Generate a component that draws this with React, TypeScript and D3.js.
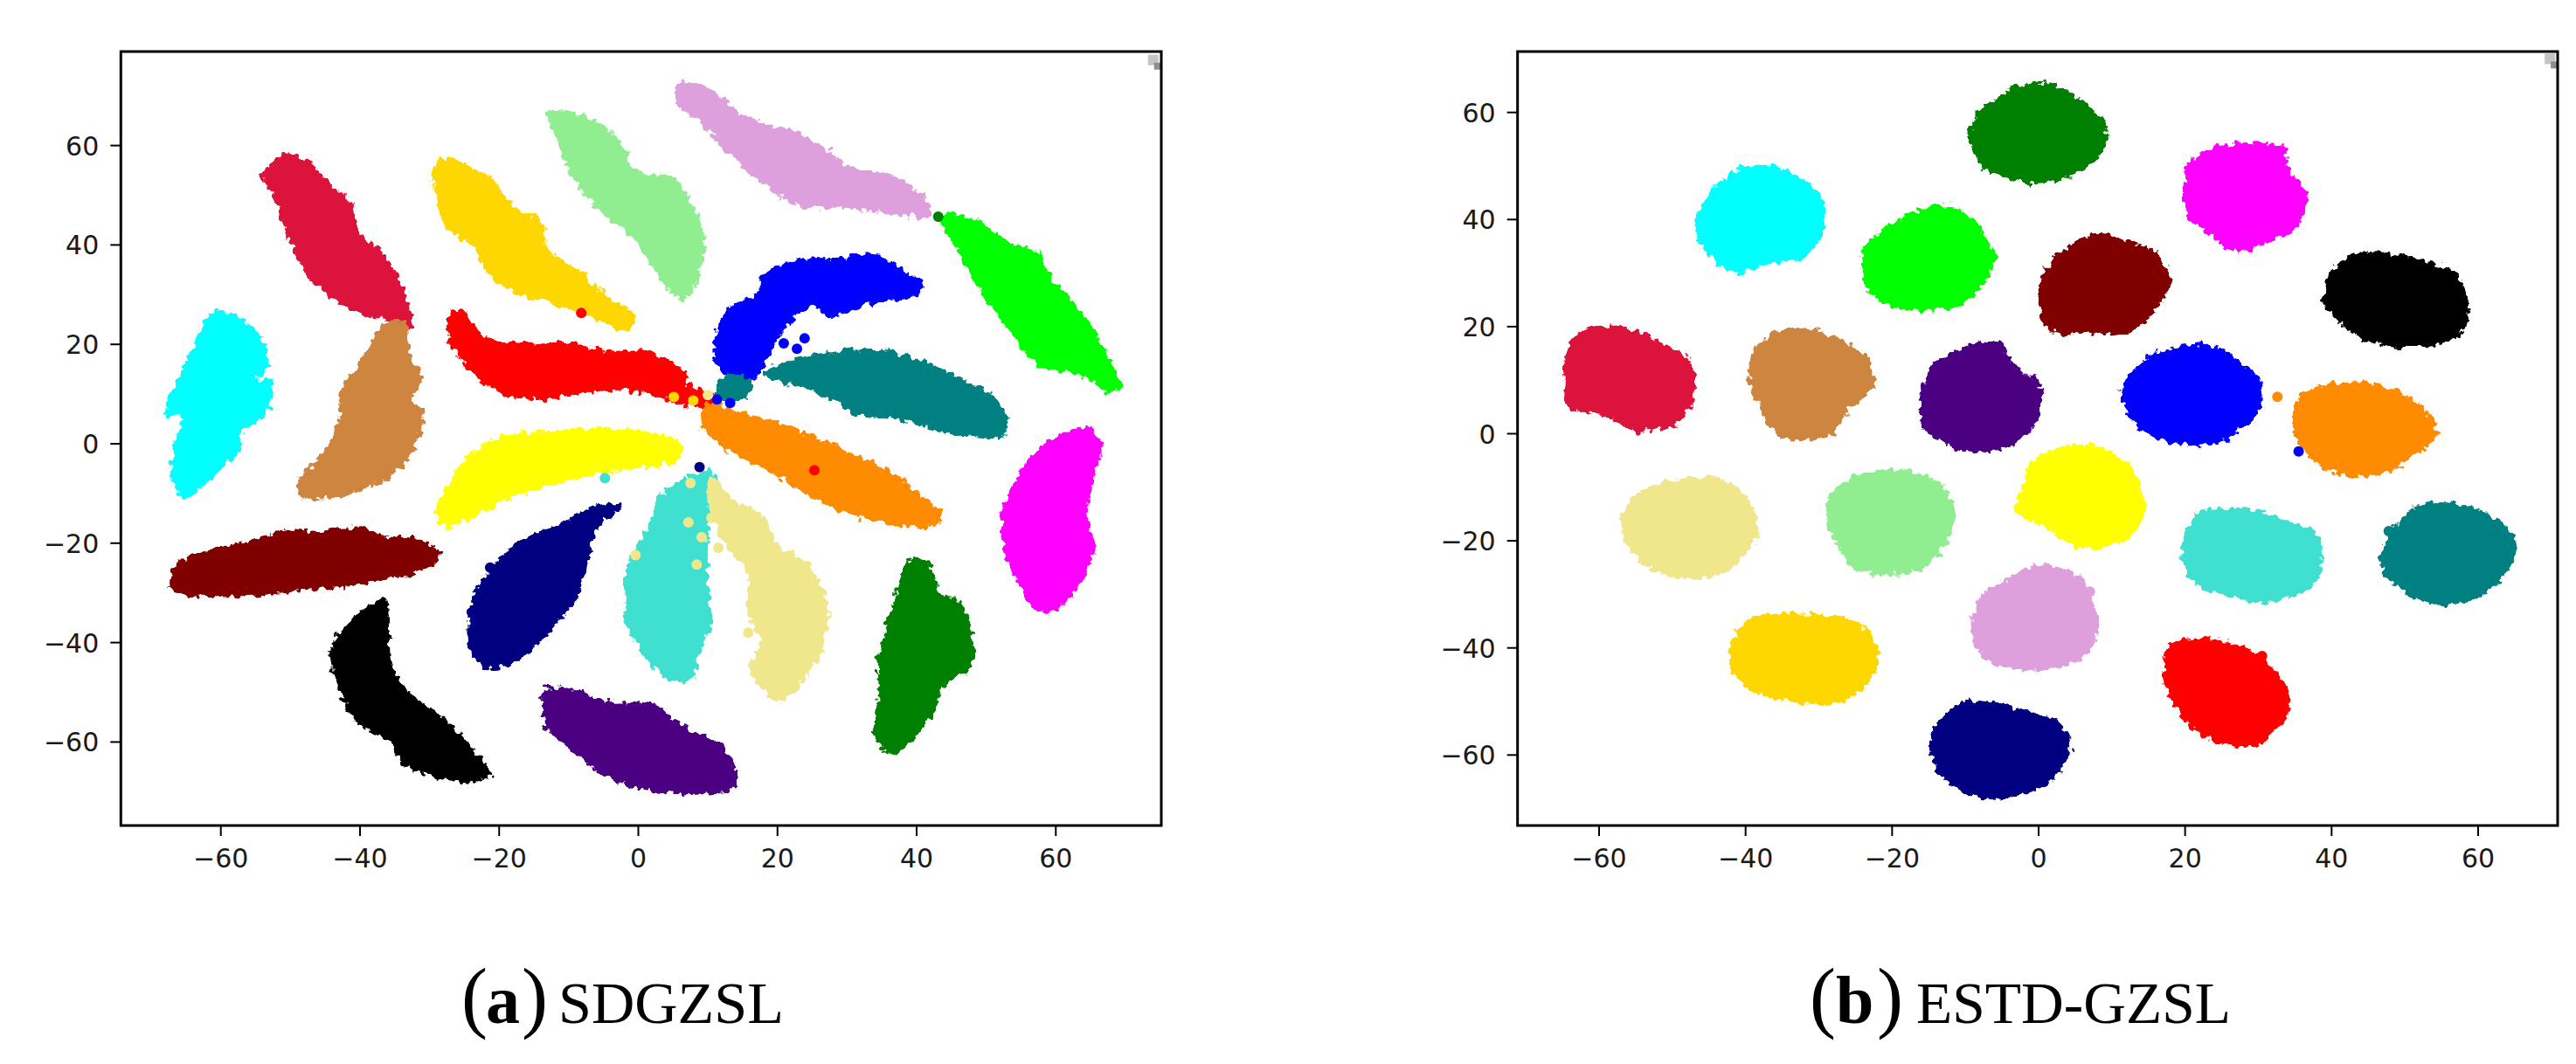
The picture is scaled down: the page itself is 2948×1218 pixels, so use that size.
import React from "react";
import * as d3 from "d3";

type P = [number, number];
const COL = {
  crimson: "#DC143C", gold: "#FFD700", lightgreen: "#90EE90", plum: "#DDA0DD", lime: "#00FF00", blue: "#0000FF",
  teal: "#008080", red: "#FF0000", orange: "#FF8C00", yellow: "#FFFF00", navy: "#000080", turquoise: "#40E0D0",
  khaki: "#F0E68C", green: "#008000", magenta: "#FF00FF", cyan: "#00FFFF", peru: "#CD853F", maroon: "#800000",
  black: "#000000", indigo: "#4B0082",
};

const tickValues = [-60, -40, -20, 0, 20, 40, 60];
const yTickValuesA = [-60, -40, -20, 0, 20, 40, 60];

// ---- Panel (a) SDGZSL : cluster outlines, in data units
const aCrimson: P[] = [[-51.6,58.1],[-48,57.3],[-45.4,53.2],[-41.7,48.4],[-40.9,43],[-37.6,39.3],[-34.5,31.8],[-33.2,24.3],[-36,25.9],[-39.1,26.4],[-43.3,29.1],[-48,35],[-50.6,42.5],[-52.4,50],[-54,54.8]];
const aGold: P[] = [[-28.9,57.5],[-25.1,56.4],[-21.5,53.2],[-18.3,47.8],[-14.2,44.6],[-13.7,39.8],[-8.4,34.4],[-5.8,30.7],[-1.1,25.9],[-2.2,23.7],[-6.3,25.9],[-12.6,29.1],[-17.8,31.2],[-22.5,36.1],[-24,40.3],[-27.7,44.1],[-29.7,54.8]];
const aLightgreen: P[] = [[-13.1,67],[-8.5,66.3],[-4.3,62.9],[-0.1,54.8],[4.1,54.3],[6.7,50],[8.8,42],[8.2,35],[6.1,29.9],[4.1,31.8],[1.5,37.1],[-1.7,43],[-6.4,48.4],[-10,55.4],[-11.6,61.1]];
const aPlum: P[] = [[5.6,72.6],[9.3,72],[13.4,67.7],[16.6,65],[21.3,63.4],[27,59.1],[29.6,55.9],[35.9,54.3],[41.1,48.9],[41.1,46.6],[35.4,47.3],[29.1,48.4],[23.4,48.4],[17.6,53.2],[12.4,59.7],[9.3,64.5],[5.6,68.7]];
const aLime: P[] = [[43.1,46.2],[48.3,45.2],[52.5,40.9],[56.6,38.8],[58.2,35],[63.9,25.3],[66.6,18.9],[68.6,11.9],[67.1,11.4],[63.4,14.6],[57.1,16.7],[54,22],[49.8,29.6],[46.7,36.5],[45.1,40.9]];
const aBlue: P[] = [[11.1,23.2],[12.9,27.9],[17.1,30.7],[17.6,33.9],[22.3,37.1],[29.1,37.7],[33.2,38.4],[36.4,36.1],[40,32.8],[39.5,30.7],[33.2,29.1],[27,26.4],[24.9,28.5],[21.3,25.3],[18.6,19.9],[16,13.5],[12.9,13.5],[10.8,17.8]];
const aTeal: P[] = [[18.1,14.6],[22.3,17.3],[29.1,18.9],[35.4,18.9],[40.6,16.7],[45.8,13.5],[50,10.3],[52.6,5.5],[51.6,2.3],[44.8,2.8],[36.4,6],[31.2,6.6],[25.9,10.8],[20.7,13]];
const aTealNub: P[] = [[11.3,12.4],[12.6,14.1],[15.5,13],[15,10.1],[11.3,9.8]];
const aRed: P[] = [[-27.2,26.9],[-25.1,26.4],[-22.5,21.6],[-17.3,20.5],[-10.5,20.5],[-4.3,18.9],[0.9,18.9],[6.1,14.6],[6.7,11.9],[10.3,10.3],[9.3,8.2],[5.1,9.2],[-0.1,11.4],[-6.4,11.4],[-13.7,9.8],[-19.9,10.9],[-24.6,15.7],[-27.2,21.1]];
const aOrange: P[] = [[9.5,8.2],[14.5,6.5],[20.7,3.9],[28,-0.4],[33.2,-3.6],[37.4,-6.9],[42.6,-13.3],[42.6,-15.2],[36.4,-15.5],[30.1,-13.3],[24.9,-10.1],[18.6,-4.7],[12.4,-0.4],[9.1,3.9]];
const aYellow: P[] = [[-29.3,-13.3],[-26.7,-5.8],[-24.6,-2],[-19.9,1.7],[-11.6,2.8],[-2.2,3.3],[5.6,0.1],[5.1,-2.6],[-1.1,-4.2],[-8.4,-5.8],[-16.8,-9],[-22,-12.2],[-27.7,-15.7]];
const aNavy: P[] = [[-3.2,-12.2],[-6.3,-16],[-7.9,-23.5],[-9.5,-30.5],[-12.6,-35.8],[-17.8,-42.8],[-22,-44.4],[-24,-42.3],[-24.6,-34.8],[-24,-30.5],[-22,-26.2],[-17.8,-19.7],[-11.6,-16],[-6.4,-12.2]];
const aTurquoise: P[] = [[9.8,-5.3],[10.8,-6.3],[9.8,-13.3],[9.3,-24],[9.8,-35.8],[8.2,-41.2],[7.2,-46.5],[4.1,-46.5],[0.4,-41.2],[-1.7,-35.8],[-1.7,-24],[0.9,-17.6],[3,-10.1],[7.2,-6.3]];
const aKhaki: P[] = [[10.3,-6.3],[12.4,-10.1],[17.6,-14.4],[19.2,-19.7],[23.9,-24],[26.5,-31.6],[26.5,-36.9],[25.4,-42.3],[19.7,-50.9],[16,-44.4],[17.6,-39.1],[15.5,-33.7],[15.5,-25.1],[12.4,-19.7],[9.8,-11.2]];
const aGreen: P[] = [[38.9,-23],[41,-23.5],[43.1,-30.5],[45.7,-31.6],[47.3,-38],[47.3,-43.9],[43.6,-47.6],[41.5,-54],[36.4,-61.6],[33.7,-58.4],[34.3,-50.9],[34.3,-42.3],[35.8,-34.8]];
const aMagenta: P[] = [[60.8,2.3],[64.4,3.3],[66,0.1],[64.9,-5.8],[63.9,-14.4],[65,-19.7],[63.9,-25.1],[61.8,-29.4],[59.7,-32.6],[57.1,-32.6],[52.9,-23],[52.1,-17.6],[52.4,-12.2],[56.1,-2.6]];
const aCyan: P[] = [[-61.5,26.6],[-58.4,26.2],[-54.2,20.5],[-53.7,16.2],[-55.7,13.5],[-53.3,13],[-54.2,6.5],[-57.8,2.3],[-57.8,-0.4],[-62,-6.3],[-65.5,-10.1],[-67.3,-6.3],[-66.8,0.6],[-65.7,6],[-68,6.5],[-65.7,15.7],[-63.6,21.6]];
const aPeru: P[] = [[-36.6,24.8],[-34,24.3],[-33.4,17.8],[-31.6,14],[-33.4,9.2],[-31.6,7],[-32.9,-0.4],[-36.1,-5.8],[-42.8,-9.6],[-48,-10.1],[-49.3,-8],[-44.9,-0.4],[-43.3,4.9],[-42.8,11.4],[-39.7,17.8]];
const aMaroon: P[] = [[-51.7,-17.1],[-48,-17.6],[-39.7,-16.7],[-36.6,-18.7],[-32.9,-18.7],[-29.3,-21.4],[-30.3,-24],[-42.8,-27.8],[-50.1,-28.9],[-56.9,-29.9],[-67.3,-28.4],[-66.2,-23.5],[-59.5,-20.3],[-53.2,-18.2]];
const aBlack: P[] = [[-37.1,-31],[-36.4,-36.9],[-36,-44.4],[-33.4,-49.8],[-28.2,-55.2],[-24,-61.6],[-21.8,-65.9],[-25.1,-67.2],[-33.9,-63.8],[-35.5,-59.5],[-40.7,-55.2],[-44.4,-42.3],[-43.3,-38],[-40.2,-33.7]];
const aIndigo: P[] = [[-13.6,-49.2],[-8.5,-49.8],[-4.3,-51.9],[1.5,-51.9],[6.1,-56.7],[11.4,-60.5],[13.5,-68],[7.2,-69.6],[-0.1,-68.5],[-5.3,-65.9],[-10,-60.5],[-13.6,-56.2]];

const aClusters: [P[], string][] = [
  [aCrimson, COL.crimson], [aGold, COL.gold], [aLightgreen, COL.lightgreen], [aPlum, COL.plum], [aLime, COL.lime],
  [aBlue, COL.blue], [aTeal, COL.teal], [aTealNub, COL.teal], [aRed, COL.red], [aOrange, COL.orange],
  [aYellow, COL.yellow], [aNavy, COL.navy], [aTurquoise, COL.turquoise], [aKhaki, COL.khaki], [aGreen, COL.green],
  [aMagenta, COL.magenta], [aCyan, COL.cyan], [aPeru, COL.peru], [aMaroon, COL.maroon], [aBlack, COL.black], [aIndigo, COL.indigo],
];
const aStrays: [number, number, string][] = [
  [-8.2,26.3,COL.red],[43.1,45.7,COL.green],[20.9,20.2,COL.blue],[22.8,19.1,COL.blue],[23.9,21.2,COL.blue],
  [13.2,8.2,COL.blue],[11.3,8.9,COL.blue],[5.1,9.4,COL.gold],[7.9,8.7,COL.gold],[10,9.8,COL.khaki],[25.3,-5.3,COL.red],
  [-4.8,-6.9,COL.turquoise],[-21.3,-24.9,COL.navy],[8.8,-4.7,COL.navy],[7.5,-7.9,COL.khaki],[7.2,-15.8,COL.khaki],
  [9.1,-18.8,COL.khaki],[-0.4,-22.4,COL.khaki],[8.4,-24.3,COL.khaki],[8.4,-41.5,COL.turquoise],[11.5,-20.9,COL.khaki],
  [13.4,-20.7,COL.khaki],[10.5,-14.9,COL.khaki],[15.8,-38,COL.khaki],
];

// ---- Panel (b) ESTD-GZSL
const bGreen: P[] = [[-3.8,65],[1.1,65.7],[5.9,62],[8.3,58.5],[8.8,56],[7.4,52],[4,49],[-1.8,47.6],[-7.6,50.5],[-9.5,55],[-8.6,60],[-5.2,63.5]];
const bMagenta: P[] = [[20.3,51],[24.2,53.8],[30,54.5],[33.3,53.5],[33.3,50.5],[36,45.1],[34.8,39.6],[31,36.6],[27.6,34.9],[25.1,35.6],[23.2,38.1],[20.3,41.1],[19.8,46.6]];
const bCyan: P[] = [[-44.7,46],[-40.9,49.7],[-36.6,50],[-31.7,47],[-29.8,43],[-30.2,38],[-32.7,33.5],[-37.5,32.5],[-41.3,31],[-44.2,32.5],[-47.1,39.5]];
const bLime: P[] = [[-21.1,38.6],[-16.3,42.1],[-12.4,42.8],[-9.1,39.6],[-7.2,35.6],[-6.4,33.6],[-8.1,28.6],[-11.5,24.6],[-16.3,23.8],[-20.2,24.6],[-23.6,27.6],[-24.1,34.6]];
const bMaroon: P[] = [[2,33.1],[6.8,37.1],[10.2,36.8],[15.5,34.1],[17.3,29.1],[16.5,25.6],[11.7,19.6],[6.8,19.6],[1.1,20.1],[-0.1,27.6]];
const bBlack: P[] = [[40.6,32.1],[44.9,34.1],[51.7,32.6],[56.5,30.1],[58.1,23.6],[56.5,18.6],[47.4,17.1],[42.5,19.6],[38.8,25.6]];
const bCrimson: P[] = [[-63,19.1],[-57.2,20.1],[-51.9,17.1],[-48,13.7],[-47.8,6.7],[-49.9,2.7],[-55.2,1.2],[-59.5,4.2],[-64.5,5.7],[-64.9,10.7],[-64.5,15.7]];
const bPeru: P[] = [[-38.4,17.1],[-34.5,19.9],[-27.8,18.1],[-23.9,14.2],[-23.1,9.7],[-26.8,4.7],[-28.7,0.7],[-35.5,0.2],[-38,4.7],[-39.7,11.7]];
const bIndigo: P[] = [[-11.5,15.7],[-6.2,17.6],[-3.3,12.2],[-0.4,9.7],[-0.9,2.7],[-4.7,-1.8],[-10.5,-2.3],[-15.8,1.7],[-16.3,6.7],[-14.8,12.7]];
const bOrangeHidden: P[] = [[13,3.2],[13.6,3.6]];
const bBlue: P[] = [[14.5,14.2],[22.7,16.9],[27,13.7],[29.5,10.7],[29.8,5.7],[25.2,-0.3],[18.9,-1.1],[13.6,1.7],[11.2,8.2]];
const bOrange: P[] = [[35.7,7.7],[43.9,9.9],[51.6,5.7],[53.8,0.7],[49.2,-4.8],[44.4,-7.3],[37.7,-4.8],[34.3,2.7]];
const bKhaki: P[] = [[-54.3,-10.3],[-44.2,-8.1],[-40.4,-11.8],[-38.9,-18.2],[-44.2,-25.7],[-51.9,-25.2],[-55.8,-21.2],[-57.2,-15.3]];
const bLightgreen: P[] = [[-25.4,-7.8],[-19.2,-6.5],[-13,-10.3],[-12.4,-17.7],[-16.3,-24.2],[-21.6,-25.7],[-25.4,-24.2],[-28.8,-16.3],[-28.8,-11.3]];
const bYellow: P[] = [[-0.9,-4.8],[5.4,-1.8],[11.7,-5.3],[14,-13.3],[11.7,-18.8],[4.9,-20.4],[0.1,-16.3],[-3.3,-13.8],[-2.3,-9.3]];
const bTurquoise: P[] = [[21.3,-14.8],[27.6,-13.8],[34.8,-16.7],[37.7,-18.7],[37.2,-27.2],[30.9,-30.7],[26.1,-29.7],[21.3,-27.2],[19.4,-22.7]];
const bTeal: P[] = [[50.7,-13.8],[56.5,-12.8],[62.2,-15.8],[64.6,-20.2],[63.7,-24.2],[59.8,-29.7],[53.6,-31.2],[50.2,-29.2],[46.8,-25.2],[46.8,-21.2]];
const bPlum: P[] = [[-5.7,-27.7],[-0.9,-24.5],[4.9,-26.2],[6.4,-29.7],[7.6,-36.2],[4.9,-41.7],[0.1,-43.2],[-7.1,-41.7],[-9.3,-36.2],[-8.1,-30.2]];
const bGold: P[] = [[-39.9,-34.7],[-35.1,-33.4],[-25,-35.2],[-22.6,-39.2],[-23,-44.2],[-26.9,-49.2],[-32.8,-49.5],[-39.5,-47.2],[-41.8,-44.2],[-42.3,-40.2]];
const bRed: P[] = [[17.9,-39.2],[23.7,-38.2],[29.5,-41.2],[33.3,-46.7],[33.6,-51.1],[29.5,-57.1],[23.2,-56.6],[18.4,-50.1],[17,-44.7]];
const bNavy: P[] = [[-12.4,-51.6],[-10,-49.7],[-0.9,-52.1],[2.5,-54.1],[3.8,-58.1],[1.1,-64.1],[-3.8,-66.9],[-9.5,-66.6],[-13.9,-62.6],[-14.8,-55.6]];

const bClusters: [P[], string][] = [
  [bGreen, COL.green], [bMagenta, COL.magenta], [bCyan, COL.cyan], [bLime, COL.lime], [bMaroon, COL.maroon], [bBlack, COL.black],
  [bCrimson, COL.crimson], [bPeru, COL.peru], [bIndigo, COL.indigo], [bOrangeHidden, COL.orange], [bBlue, COL.blue], [bOrange, COL.orange], [bKhaki, COL.khaki],
  [bLightgreen, COL.lightgreen], [bYellow, COL.yellow], [bTurquoise, COL.turquoise], [bTeal, COL.teal], [bPlum, COL.plum],
  [bGold, COL.gold], [bRed, COL.red], [bNavy, COL.navy],
];
const bStrays: [number, number, string][] = [
  [32.6,6.9,COL.orange],[35.5,-3.3,COL.blue],[47.8,-18.2,COL.teal],[7,-29.5,COL.plum],[30.5,-41.5,COL.red],
];

const cornerMarkA: P = [74.0, 77.2];
const cornerMarkB: P = [69.8, 70.0];

function Panel({ left, right, x0, xUnit, y0, yUnit, clusters, strays, mark }: any) {
  const top = 59, bottom = 945;
  const x = d3.scaleLinear().domain([(left - x0) / xUnit, (right - x0) / xUnit]).range([left, right]);
  const y = d3.scaleLinear().domain([(y0 - top) / yUnit, (y0 - bottom) / yUnit]).range([top, bottom]);
  const line = d3.line<P>().x((d) => x(d[0])).y((d) => y(d[1])).curve(d3.curveCatmullRomClosed.alpha(0.5));
  return (
    <g>
      <g filter="url(#rough)">
        {clusters.map(([pts, c]: [P[], string], i: number) => (
          <g key={i} fill={c}>
            <path d={line(pts) as string} stroke={c} strokeWidth={4} strokeLinejoin="round" />
            {pts.map((p, j) => <circle key={j} cx={x(p[0])} cy={y(p[1])} r={3.5} />)}
          </g>
        ))}
      </g>
      <g filter="url(#soft)">
        {strays.map((s: [number, number, string], i: number) => (
          <circle key={i} cx={x(s[0])} cy={y(s[1])} r={6} fill={s[2]} />
        ))}
        <rect x={x(mark[0]) - 6} y={y(mark[1]) - 6} width={12} height={12} fill="#c4c4c4" />
        <rect x={x(mark[0]) + 1} y={y(mark[1]) + 3} width={9} height={8} fill="#8e8e8e" />
      </g>
      <rect x={left} y={top} width={right - left} height={bottom - top} fill="none" stroke="#000" strokeWidth={3} />
      {tickValues.map((t) => (
        <g key={"x" + t}>
          <line x1={x(t)} x2={x(t)} y1={bottom} y2={bottom + 12} stroke="#000" strokeWidth={2} />
          <text x={x(t)} y={993} textAnchor="middle" fontFamily="DejaVu Sans" fontSize={30} fill="#1a1a1a">
            {t < 0 ? "\u2212" + Math.abs(t) : t}
          </text>
        </g>
      ))}
      {yTickValuesA.map((t) => (
        <g key={"y" + t}>
          <line x1={left - 12} x2={left} y1={y(t)} y2={y(t)} stroke="#000" strokeWidth={2} />
          <text x={left - 25} y={y(t) + 11} textAnchor="end" fontFamily="DejaVu Sans" fontSize={30} fill="#1a1a1a">
            {t < 0 ? "\u2212" + Math.abs(t) : t}
          </text>
        </g>
      ))}
    </g>
  );
}

function Caption({ parenL, letter, letterX, parenR, label, labelX, labelW }: any) {
  const f = "Liberation Serif";
  return (
    <g fontFamily={f} fill="#000">
      <text x={parenL} y={1171} fontSize={90}>(</text>
      <text x={letterX} y={1171} fontSize={78} fontWeight="bold">{letter}</text>
      <text x={parenR} y={1171} fontSize={90}>)</text>
      <text x={labelX} y={1171} fontSize={68} textLength={labelW} lengthAdjust="spacingAndGlyphs">{label}</text>
    </g>
  );
}

export default function App() {
  return (
    <svg width={2948} height={1218} viewBox="0 0 2948 1218" style={{ position: "absolute", left: 0, top: 0, display: "block", background: "#fff" }}>
      <defs>
        <filter id="soft" filterUnits="userSpaceOnUse" x={0} y={0} width={2948} height={1218} colorInterpolationFilters="sRGB">
          <feGaussianBlur stdDeviation={0.7} />
        </filter>
        <filter id="rough" filterUnits="userSpaceOnUse" x={0} y={0} width={2948} height={1218} colorInterpolationFilters="sRGB">
          <feTurbulence type="fractalNoise" baseFrequency={0.13} numOctaves={2} seed={3} result="n" />
          <feDisplacementMap in="SourceGraphic" in2="n" scale={13} xChannelSelector="R" yChannelSelector="G" />
          <feOffset dx={2.5} dy={2.5} />
          <feGaussianBlur stdDeviation={0.7} />
        </filter>
      </defs>
      <Panel left={138.3} right={1329} x0={730.5} xUnit={7.963} y0={508} yUnit={5.69} clusters={aClusters} strays={aStrays} mark={cornerMarkA} />
      <Panel left={1736.7} right={2927} x0={2333} xUnit={8.383} y0={496.5} yUnit={6.13} clusters={bClusters} strays={bStrays} mark={cornerMarkB} />
      <Caption parenL={528} letter="a" letterX={556} parenR={597} label="SDGZSL" labelX={639} labelW={258} />
      <Caption parenL={2071} letter="b" letterX={2101} parenR={2148} label="ESTD-GZSL" labelX={2193} labelW={360} />
    </svg>
  );
}
